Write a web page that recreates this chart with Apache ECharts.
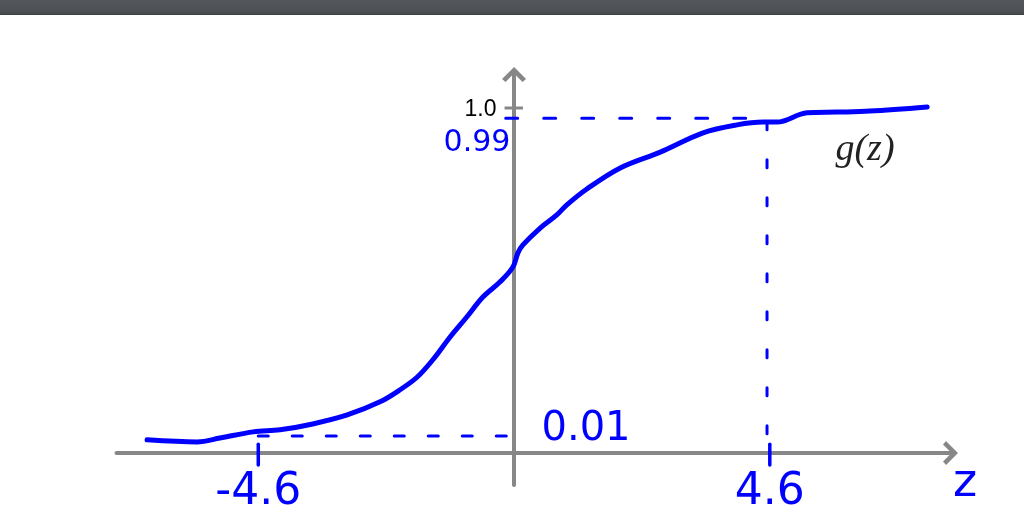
<!DOCTYPE html>
<html>
<head>
<meta charset="utf-8">
<script src="https://cdn.jsdelivr.net/npm/echarts@6/dist/echarts.min.js"></script>
<style>
html,body{margin:0;padding:0;background:#fff;}
#chart{width:1024px;height:516px;}
</style>
</head>
<body>
<div id="chart"></div>
<script>
// ---- data ----
const curveZ = [-6.60,-5.70,-5.29,-4.69,-4.21,-3.62,-3.00,-2.41,-2.05,-1.74,-1.46,-1.15,-0.85,-0.56,-0.25,-0.02,0.07,0.16,0.47,0.77,0.95,1.31,1.91,2.63,3.40,4.01,4.48,4.73,5.27,5.81,6.40,7.43];
const curveG = [0.038,0.032,0.043,0.061,0.067,0.084,0.110,0.148,0.183,0.220,0.270,0.336,0.394,0.452,0.496,0.539,0.580,0.603,0.652,0.690,0.719,0.765,0.826,0.872,0.928,0.951,0.959,0.959,0.986,0.988,0.991,1.003];
const xTickLabels = [-4.6, 4.6];
const yTickLabels = [1.0];
const upperGuideZ = [-0.15, 4.55];
const upperGuideG = [0.97, 0.97];
const vertGuideZ = [4.55, 4.55];
const vertGuideG = [0.96, -0.03];
const lowerGuideZ = [-4.6, 0.1];
const lowerGuideG = [0.049, 0.049];
const xTickSpanG = [-0.035, 0.025];
const yTickSpanZ = [-0.17, 0.16];
const annotations = {upper: '0.99', lower: '0.01', axisName: 'z', curveName: 'g(z)'};

// ---- chart ----
const zip = (a, b) => a.map((v, i) => [v, b[i]]);
const blue = '#0000ff';
const axisGray = '#878787';
const chevron = 'path://M0,12 L12,0 L24,12 L20.5,15 L12,6.5 L3.5,15 Z';

const series = [];
series.push({
  type: 'line', data: zip(curveZ, curveG), smooth: 0.35, showSymbol: false, symbol: 'none',
  lineStyle: {color: blue, width: 5, cap: 'round', join: 'round'}, z: 5
});
function guide(zs, gs, dash, width) {
  series.push({
    type: 'line', data: zip(zs, gs), showSymbol: false, symbol: 'none',
    lineStyle: {color: blue, width: width, type: dash, cap: 'round'}, z: 4
  });
}
guide(upperGuideZ, upperGuideG, [12, 26], 3);
guide(vertGuideZ, vertGuideG, [8, 30], 3);
guide(lowerGuideZ, lowerGuideG, [10, 24], 3);
xTickLabels.forEach(v => {
  series.push({
    type: 'line', data: zip([v, v], xTickSpanG), showSymbol: false, symbol: 'none',
    lineStyle: {color: blue, width: 3.5, cap: 'round'}, z: 4
  });
});
yTickLabels.forEach(v => {
  series.push({
    type: 'line', data: zip(yTickSpanZ, [v, v]), showSymbol: false, symbol: 'none',
    lineStyle: {color: axisGray, width: 3}, z: 2
  });
});
// tick labels placed through the axes' scales
series.push({
  type: 'scatter', symbolSize: 1, itemStyle: {color: 'rgba(0,0,0,0)', opacity: 1}, silent: true, z: 6,
  data: xTickLabels.map(v => [v, 0]),
  label: {show: true, position: 'bottom', distance: 17, formatter: p => String(p.value[0]),
          color: blue, fontSize: 44, fontFamily: 'DejaVu Sans', textBorderWidth: 0}
});
series.push({
  type: 'scatter', symbolSize: 1, itemStyle: {color: 'rgba(0,0,0,0)', opacity: 1}, silent: true, z: 6,
  data: yTickLabels.map(v => [0, v]),
  label: {show: true, position: 'left', distance: 17, formatter: p => Number(p.value[1]).toFixed(1),
          color: '#000', fontSize: 23, fontFamily: 'Liberation Sans', offset: [0, 2], textBorderWidth: 0}
});

const chart = echarts.init(document.getElementById('chart'), null, {renderer: 'canvas'});
chart.setOption({
  animation: false,
  backgroundColor: '#ffffff',
  grid: {left: 116.5, right: 73.5, top: 74.5, bottom: 31, containLabel: false, outerBoundsMode: 'none'},
  xAxis: {
    type: 'value', min: -7.15, max: 7.85,
    axisLine: {onZero: true, symbol: ['none', chevron], symbolSize: [24, 15], lineStyle: {color: axisGray, width: 4}},
    axisTick: {show: false},
    splitLine: {show: false},
    axisLabel: {show: false}
  },
  yAxis: {
    type: 'value', min: -0.093, max: 1.097,
    axisLine: {onZero: true, symbol: ['none', chevron], symbolSize: [24, 15], lineStyle: {color: axisGray, width: 4}},
    axisTick: {show: false},
    splitLine: {show: false},
    axisLabel: {show: false}
  },
  series: series,
  graphic: [
    {type: 'rect', left: 0, top: 0, shape: {width: 1024, height: 15}, z: 100,
     style: {fill: new echarts.graphic.LinearGradient(0, 0, 0, 1, [{offset: 0, color: '#54585c'}, {offset: 0.8, color: '#4c5054'}, {offset: 1, color: '#3e4144'}])}},
    {type: 'text', x: 865, y: 150, z: 100,
     style: {text: annotations.curveName, fill: '#222', font: 'italic 38px "Liberation Serif"', align: 'center', verticalAlign: 'middle'}},
    {type: 'text', x: 477, y: 143, z: 100,
     style: {text: annotations.upper, fill: blue, font: '30px "DejaVu Sans"', align: 'center', verticalAlign: 'middle'}},
    {type: 'text', x: 586, y: 430, z: 100,
     style: {text: annotations.lower, fill: blue, font: '40px "DejaVu Sans"', align: 'center', verticalAlign: 'middle'}},
    {type: 'text', x: 965, y: 484, z: 100,
     style: {text: annotations.axisName, fill: blue, font: '46px "DejaVu Sans"', align: 'center', verticalAlign: 'middle'}}
  ]
});
</script>
</body>
</html>
